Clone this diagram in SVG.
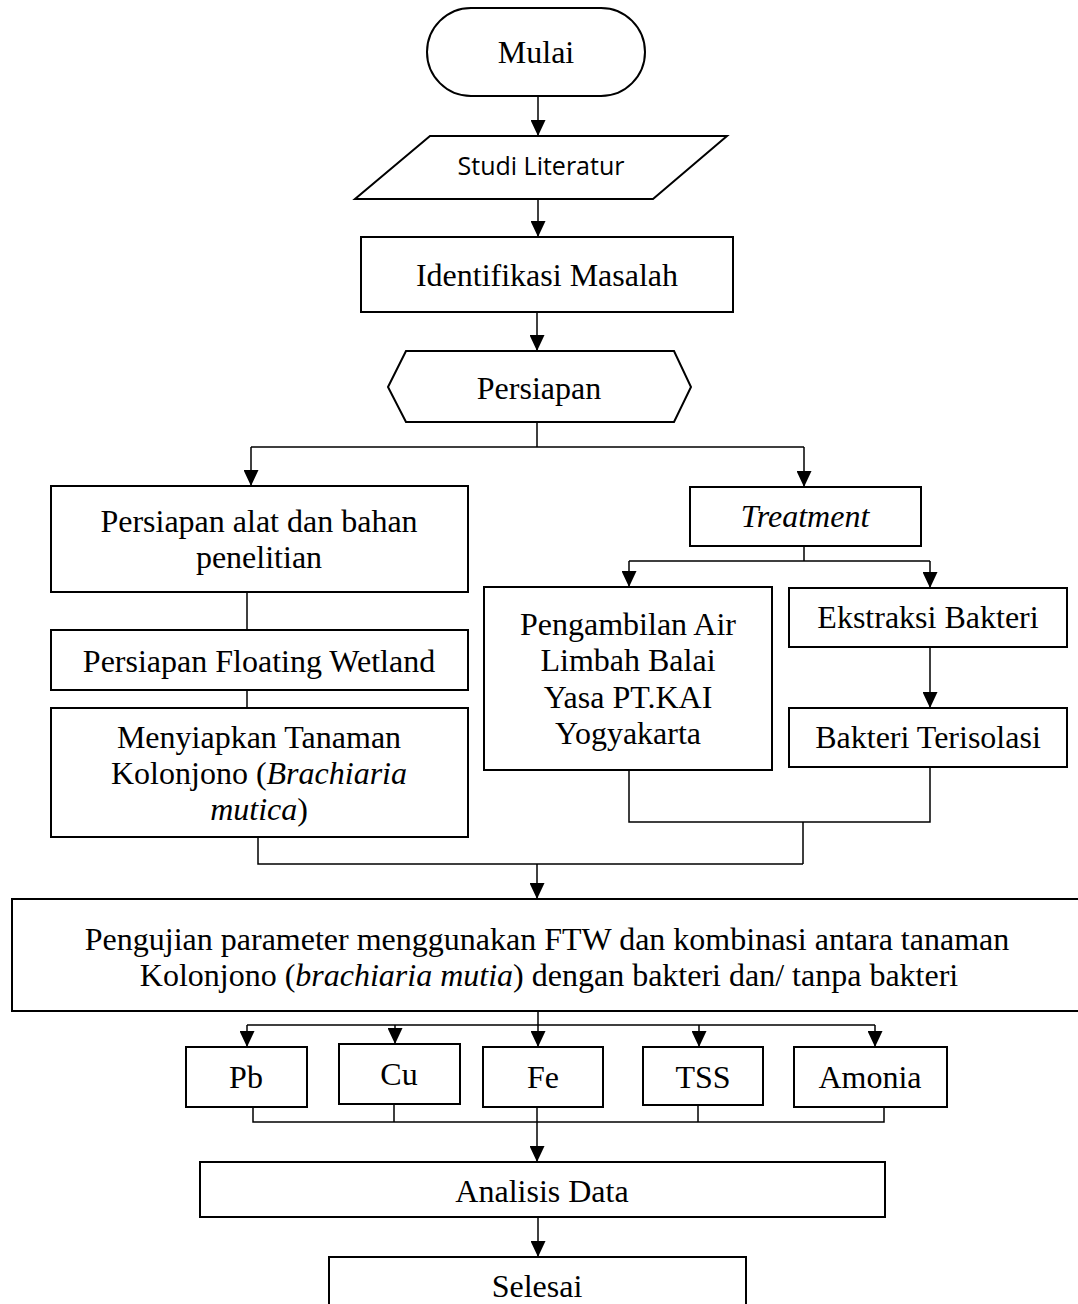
<svg xmlns="http://www.w3.org/2000/svg" width="1078" height="1304" viewBox="0 0 1078 1304">
<style>
.box{fill:#fff;stroke:#000;stroke-width:2}
.t{font-family:"Liberation Serif","Times New Roman",serif;font-size:32px;fill:#000;text-anchor:middle}
.s{font-family:"Open Sans","Liberation Sans",sans-serif;font-size:25px;fill:#000;text-anchor:middle}
.c{fill:none;stroke:#000;stroke-width:1.5}
.a{fill:none;stroke:#000;stroke-width:1.5;marker-end:url(#ah)}
</style>
<defs>
<marker id="ah" markerUnits="userSpaceOnUse" markerWidth="16" markerHeight="15" refX="16" refY="7.5" orient="auto">
<path d="M0,0 L16,7.5 L0,15 z" fill="#000"/>
</marker>
</defs>
<rect width="1078" height="1304" fill="#fff"/>
<g id="connectors">
<path class="a" d="M538,96 V136"/>
<path class="a" d="M538,199 V237"/>
<path class="a" d="M537,312 V351"/>
<path class="c" d="M537,422 V447 M251,447 H804"/>
<path class="a" d="M251,447 V486"/>
<path class="a" d="M804,447 V487"/>
<path class="c" d="M247,592 V630"/>
<path class="c" d="M247,690 V708"/>
<path class="c" d="M804,546 V561 M629,561 H930"/>
<path class="a" d="M629,561 V587"/>
<path class="a" d="M930,561 V588"/>
<path class="a" d="M930,647 V708"/>
<path class="c" d="M629,770 V822 H930 V767 M803,822 V864"/>
<path class="c" d="M258,837 V864 H803"/>
<path class="a" d="M537,864 V899"/>
<path class="c" d="M538,1011 V1025 M247,1025 H875"/>
<path class="a" d="M247,1025 V1047"/>
<path class="a" d="M395,1025 V1044"/>
<path class="a" d="M538,1025 V1047"/>
<path class="a" d="M699,1025 V1047"/>
<path class="a" d="M875,1025 V1047"/>
<path class="c" d="M253,1107 V1122 H884 V1107 M394,1104 V1122 M698,1105 V1122"/>
<path class="a" d="M537,1107 V1162"/>
<path class="a" d="M538,1217 V1257"/>
</g>
<g id="mulai">
<rect class="box" x="427" y="8" width="218" height="88" rx="44" ry="44"/>
<text class="t" x="536" y="63">Mulai</text>
</g>
<g id="studi-literatur">
<polygon class="box" points="430,136 727,136 653,199 355,199"/>
<text class="s" x="541" y="175">Studi Literatur</text>
</g>
<g id="identifikasi">
<rect class="box" x="361" y="237" width="372" height="75"/>
<text class="t" x="547" y="286">Identifikasi Masalah</text>
</g>
<g id="persiapan">
<polygon class="box" points="388,387 406,351 674,351 691,387 674,422 406,422"/>
<text class="t" x="539" y="399">Persiapan</text>
</g>
<g id="persiapan-alat">
<rect class="box" x="51" y="486" width="417" height="106"/>
<text class="t" x="259" y="532">Persiapan alat dan bahan</text>
<text class="t" x="259" y="568">penelitian</text>
</g>
<g id="floating-wetland">
<rect class="box" x="51" y="630" width="417" height="60"/>
<text class="t" x="259" y="672">Persiapan Floating Wetland</text>
</g>
<g id="menyiapkan">
<rect class="box" x="51" y="708" width="417" height="129"/>
<text class="t" x="259" y="748">Menyiapkan Tanaman</text>
<text class="t" x="259" y="784">Kolonjono (<tspan font-style="italic">Brachiaria</tspan></text>
<text class="t" x="259" y="820"><tspan font-style="italic">mutica</tspan>)</text>
</g>
<g id="treatment">
<rect class="box" x="690" y="487" width="231" height="59"/>
<text class="t" x="805" y="527" font-style="italic">Treatment</text>
</g>
<g id="pengambilan">
<rect class="box" x="484" y="587" width="288" height="183"/>
<text class="t" x="628" y="635">Pengambilan Air</text>
<text class="t" x="628" y="671">Limbah Balai</text>
<text class="t" x="628" y="708">Yasa PT.KAI</text>
<text class="t" x="628" y="744">Yogyakarta</text>
</g>
<g id="ekstraksi">
<rect class="box" x="789" y="588" width="278" height="59"/>
<text class="t" x="928" y="628">Ekstraksi Bakteri</text>
</g>
<g id="terisolasi">
<rect class="box" x="789" y="708" width="278" height="59"/>
<text class="t" x="928" y="748">Bakteri Terisolasi</text>
</g>
<g id="pengujian">
<rect class="box" x="12" y="899" width="1075" height="112"/>
<text class="t" x="547" y="950">Pengujian parameter menggunakan FTW dan kombinasi antara tanaman</text>
<text class="t" x="549" y="986">Kolonjono (<tspan font-style="italic">brachiaria mutia</tspan>) dengan bakteri dan/ tanpa bakteri</text>
</g>
<g id="pb">
<rect class="box" x="186" y="1047" width="121" height="60"/>
<text class="t" x="246" y="1088">Pb</text>
</g>
<g id="cu">
<rect class="box" x="339" y="1044" width="121" height="60"/>
<text class="t" x="399" y="1085">Cu</text>
</g>
<g id="fe">
<rect class="box" x="483" y="1047" width="120" height="60"/>
<text class="t" x="543" y="1088">Fe</text>
</g>
<g id="tss">
<rect class="box" x="643" y="1047" width="120" height="58"/>
<text class="t" x="703" y="1088">TSS</text>
</g>
<g id="amonia">
<rect class="box" x="794" y="1047" width="153" height="60"/>
<text class="t" x="870" y="1088">Amonia</text>
</g>
<g id="analisis">
<rect class="box" x="200" y="1162" width="685" height="55"/>
<text class="t" x="542" y="1202">Analisis Data</text>
</g>
<g id="selesai">
<rect class="box" x="329" y="1257" width="417" height="60"/>
<text class="t" x="537" y="1297">Selesai</text>
</g>
</svg>
